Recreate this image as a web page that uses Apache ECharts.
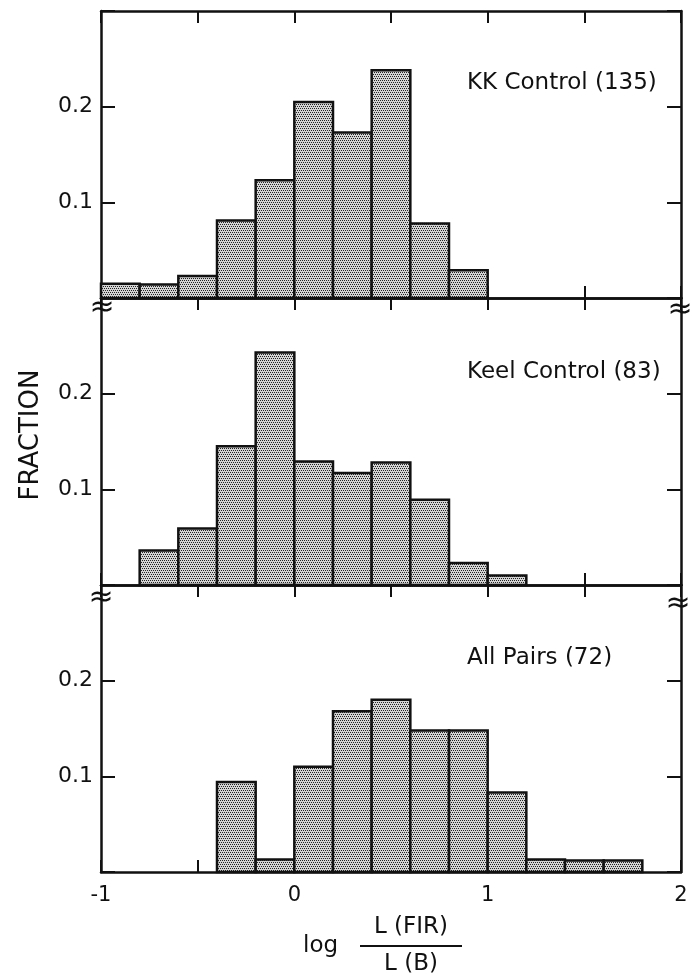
<!DOCTYPE html>
<html>
<head>
<meta charset="utf-8">
<script src="https://cdn.jsdelivr.net/npm/echarts@6/dist/echarts.min.js"></script>
<style>
html,body{margin:0;padding:0;background:#fff;}
#chart{width:694px;height:976px;}
</style>
</head>
<body>
<div id="chart"></div>
<script>
// ---- data ----
const binWidth = 0.2;
const kkBins   = [-1.0, -0.8, -0.6, -0.4, -0.2, 0.0, 0.2, 0.4, 0.6, 0.8];
const kkValues = [0.015, 0.014, 0.023, 0.081, 0.123, 0.205, 0.173, 0.238, 0.078, 0.029];
const keelBins   = [-0.8, -0.6, -0.4, -0.2, 0.0, 0.2, 0.4, 0.6, 0.8, 1.0];
const keelValues = [0.036, 0.059, 0.145, 0.243, 0.129, 0.117, 0.128, 0.089, 0.023, 0.010];
const allBins   = [-0.4, -0.2, 0.0, 0.2, 0.4, 0.6, 0.8, 1.0, 1.2, 1.4, 1.6];
const allValues = [0.094, 0.013, 0.110, 0.168, 0.180, 0.148, 0.148, 0.083, 0.013, 0.012, 0.012];
const panelTitles = ['KK Control (135)', 'Keel Control (83)', 'All Pairs (72)'];
const xTickLabels = ['-1', '0', '1', '2'];
const yTickLabels = ['0.1', '0.2'];

const FONT = 'DejaVu Sans';
const INK = '#111';

// stipple pattern
const pc = document.createElement('canvas');
pc.width = 4; pc.height = 4;
const pctx = pc.getContext('2d');
pctx.fillStyle = '#d4d4d4'; pctx.fillRect(0,0,4,4);
pctx.fillStyle = '#222';
[[0,0],[2,0],[1,2],[3,2]].forEach(p => pctx.fillRect(p[0],p[1],1,1));
const pattern = { image: pc, repeat: 'repeat' };

const panels = [
  {bins: kkBins, values: kkValues},
  {bins: keelBins, values: keelValues},
  {bins: allBins, values: allValues}
];

const gridTops = [11, 298, 585];
const gridH = 287;
const grids = [], xAxes = [], yAxes = [], series = [];

function renderItem(params, api) {
  const x0 = api.value(0), x1 = api.value(1), y = api.value(2);
  const p0 = api.coord([x0, y]);
  const p1 = api.coord([x1, 0]);
  return {
    type: 'rect',
    shape: {x: p0[0], y: p0[1], width: p1[0] - p0[0], height: p1[1] - p0[1]},
    style: {fill: pattern, stroke: INK, lineWidth: 2.5}
  };
}

panels.forEach((p, i) => {
  grids.push({left: 101, width: 580, top: gridTops[i], height: gridH});
  const axLine = {show: true, onZero: false, lineStyle: {color: INK, width: 2.5}};
  const base = {
    gridIndex: i, type: 'value', min: -1, max: 2, interval: 0.5,
    axisLine: axLine, splitLine: {show: false},
    axisTick: {show: true, inside: true, length: 12, lineStyle: {color: INK, width: 2}}
  };
  xAxes.push(Object.assign({}, base, {
    position: 'bottom',
    axisLabel: {
      show: i === 2, margin: 13, color: INK, fontFamily: FONT, fontSize: 21,
      formatter: v => {
        const s = String(Math.round(v));
        return (Number.isInteger(v) && xTickLabels.includes(s)) ? s : '';
      }
    }
  }));
  xAxes.push(Object.assign({}, base, {position: 'top', axisLabel: {show: false}}));
  const ybase = {
    gridIndex: i, type: 'value', min: 0, max: 0.3, interval: 0.1,
    axisLine: axLine, splitLine: {show: false},
    axisTick: {show: true, inside: true, length: 14, lineStyle: {color: INK, width: 2}}
  };
  yAxes.push(Object.assign({}, ybase, {
    position: 'left',
    axisLabel: {
      show: true, margin: 8, color: INK, fontFamily: FONT, fontSize: 22,
      formatter: v => {
        const s = v.toFixed(1);
        return yTickLabels.includes(s) ? s : '';
      }
    }
  }));
  yAxes.push(Object.assign({}, ybase, {position: 'right', axisLabel: {show: false}}));
  series.push({
    type: 'custom',
    xAxisIndex: i * 2,
    yAxisIndex: i * 2,
    renderItem: renderItem,
    encode: {x: [0, 1], y: 2},
    data: p.bins.map((b, k) => [b, +(b + binWidth).toFixed(2), p.values[k]]),
    z: 3
  });
});

const titleYs = [83, 372, 658];
const graphics = [];
panelTitles.forEach((t, i) => {
  graphics.push({type: 'text', x: 467, y: titleYs[i],
    style: {text: t, font: '23px "' + FONT + '"', fill: INK, align: 'left', verticalAlign: 'middle'}});
});
// y axis title
graphics.push({type: 'text', x: 31, y: 435, rotation: Math.PI / 2,
  style: {text: 'FRACTION', font: '26px "' + FONT + '"', fill: INK, align: 'center', verticalAlign: 'middle'}});
// x axis title
graphics.push({type: 'text', x: 303, y: 946,
  style: {text: 'log', font: '23px "' + FONT + '"', fill: INK, align: 'left', verticalAlign: 'middle'}});
graphics.push({type: 'text', x: 411, y: 927,
  style: {text: 'L (FIR)', font: '23px "' + FONT + '"', fill: INK, align: 'center', verticalAlign: 'middle'}});
graphics.push({type: 'line', shape: {x1: 360, y1: 946, x2: 462, y2: 946}, style: {stroke: INK, lineWidth: 2}});
graphics.push({type: 'text', x: 411, y: 964,
  style: {text: 'L (B)', font: '23px "' + FONT + '"', fill: INK, align: 'center', verticalAlign: 'middle'}});
// axis break marks
[[102, 308], [101, 598], [680, 310], [678, 604]].forEach(p => {
  graphics.push({type: 'text', x: p[0], y: p[1], z: 10,
    style: {text: '≈', font: '30px "' + FONT + '"', fill: INK, align: 'center', verticalAlign: 'middle'}});
});

const chart = echarts.init(document.getElementById('chart'), null, {renderer: 'canvas'});
chart.setOption({
  animation: false,
  backgroundColor: '#fff',
  grid: grids,
  xAxis: xAxes,
  yAxis: yAxes,
  series: series,
  graphic: graphics
});
</script>
</body>
</html>
